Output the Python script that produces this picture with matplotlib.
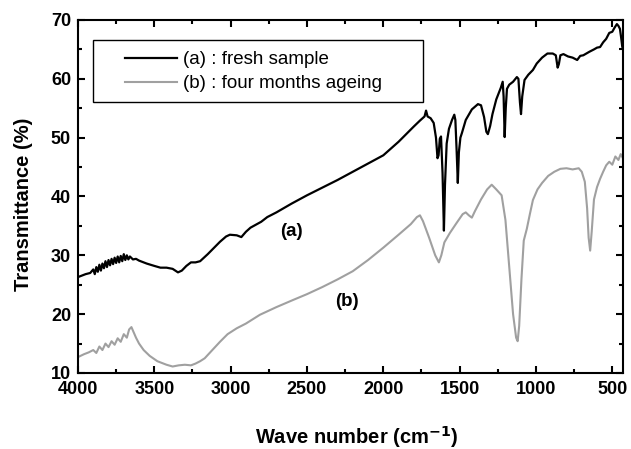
import matplotlib.pyplot as plt
from matplotlib.ticker import MultipleLocator
from matplotlib.patches import Rectangle

# curve (a): fresh sample, wave number (cm-1) / transmittance (%)
wn_a = [4000, 3950, 3920, 3900, 3890, 3880, 3870, 3860, 3850, 3840, 3830, 3820,
        3810, 3800, 3790, 3780, 3770, 3760, 3750, 3740, 3730, 3720, 3710, 3700,
        3690, 3680, 3670, 3660, 3640, 3620, 3600, 3550, 3500, 3460, 3420, 3380,
        3345, 3320, 3290, 3260, 3230, 3200, 3150, 3100, 3070, 3030, 3005, 2960,
        2930, 2900, 2870, 2800, 2760, 2700, 2600, 2500, 2400, 2300, 2200, 2100,
        2000, 1900, 1800, 1760, 1730, 1720, 1710, 1690, 1670, 1655, 1645, 1638,
        1630, 1622, 1612, 1603, 1596, 1585, 1570, 1550, 1535, 1528, 1520, 1512,
        1505, 1495, 1485, 1460, 1420, 1380, 1360, 1340, 1325, 1315, 1300, 1285,
        1260, 1230, 1218, 1212, 1205, 1198, 1190, 1175, 1150, 1125, 1115, 1105,
        1098, 1090, 1075, 1050, 1020, 995, 960, 925, 890, 870, 858, 850,
        840, 820, 790, 760, 730, 710, 690, 670, 650, 620, 600, 580,
        560, 540, 520, 500, 485, 470, 460, 450, 442, 435, 430]
t_a = [26.3, 26.8, 27.0, 27.6, 26.8, 28.0, 27.2, 28.4, 27.4, 28.6, 27.8, 29.0,
       28.0, 29.2, 28.3, 29.4, 28.5, 29.6, 28.7, 29.8, 28.8, 29.9, 29.0, 30.2,
       29.2, 30.0, 29.3, 29.8, 29.3, 29.4, 29.1, 28.6, 28.2, 27.9, 27.9, 27.7,
       27.1, 27.4, 28.2, 28.8, 28.8, 29.0, 30.2, 31.5, 32.3, 33.2, 33.5, 33.4,
       33.1, 34.0, 34.7, 35.7, 36.5, 37.3, 38.8, 40.2, 41.5, 42.8, 44.2, 45.6,
       47.0, 49.3, 51.9, 52.9, 53.6, 54.6, 53.6, 53.3, 52.5, 50.0, 46.5, 47.0,
       49.8, 50.2, 44.0, 34.2, 42.0, 49.0, 51.5, 53.0, 53.9, 53.0, 48.0, 42.3,
       47.5, 50.0, 50.8, 53.0, 54.8, 55.7, 55.5, 53.5, 51.0, 50.6, 52.0, 54.0,
       56.5, 58.5, 59.5, 57.0, 50.1, 55.0, 58.3, 59.0, 59.5, 60.3, 60.0, 56.0,
       54.0, 57.0, 59.8, 60.7, 61.5, 62.6, 63.6, 64.3, 64.3, 64.0, 61.9, 62.5,
       64.0, 64.2, 63.8, 63.6, 63.2, 63.9, 64.0, 64.3, 64.6, 65.0, 65.3, 65.4,
       66.2, 66.8, 67.8, 68.0, 68.7, 69.3, 69.0, 68.5, 67.0, 65.5, 65.0]

# curve (b): four months ageing
wn_b = [4000, 3960, 3930, 3900, 3880, 3860, 3840, 3820, 3800, 3780, 3760, 3740,
        3720, 3700, 3680, 3665, 3650, 3640, 3620, 3600, 3570, 3530, 3480, 3420,
        3380, 3340, 3300, 3260, 3230, 3200, 3170, 3120, 3070, 3020, 2960, 2900,
        2808, 2700, 2592, 2500, 2400, 2300, 2200, 2100, 2000, 1900, 1820, 1780,
        1760, 1740, 1700, 1660, 1636, 1620, 1600, 1564, 1520, 1480, 1460, 1440,
        1420, 1400, 1360, 1320, 1290, 1260, 1225, 1200, 1175, 1150, 1130, 1120,
        1110, 1095, 1080, 1060, 1040, 1020, 990, 960, 920, 880, 840, 800,
        760, 720, 700, 680, 665, 655, 645, 635, 620, 600, 580, 560,
        540, 520, 500, 480, 460, 445, 430]
t_b = [12.7, 13.2, 13.5, 13.9, 13.4, 14.5, 13.9, 15.0, 14.4, 15.4, 14.8, 15.9,
       15.3, 16.6, 16.0, 17.4, 17.8, 17.2, 16.0, 15.0, 13.9, 12.9, 12.0, 11.4,
       11.1, 11.3, 11.4, 11.3, 11.6, 12.0, 12.5, 13.9, 15.3, 16.6, 17.6, 18.4,
       19.9, 21.2, 22.4, 23.4, 24.6, 25.9, 27.3, 29.2, 31.3, 33.5, 35.3, 36.5,
       36.8, 35.8, 33.0, 30.0, 28.8, 30.0, 32.2, 33.8, 35.5, 37.0, 37.3, 36.8,
       36.4, 37.5, 39.5, 41.2, 42.0, 41.2, 40.2, 36.0, 28.0, 20.0, 16.0, 15.4,
       18.0, 26.0, 32.5, 34.5, 37.0, 39.4, 41.2, 42.3, 43.5, 44.2, 44.7, 44.8,
       44.6, 44.8, 44.2, 42.5, 38.0, 33.0, 30.8, 34.0, 39.5, 41.6, 43.0, 44.2,
       45.3, 45.9, 45.4, 46.8, 46.2, 47.2, 46.5]

label_a = '(a) : fresh sample'
label_b = '(b) : four months ageing'

plt.rcParams['font.family'] = ['Liberation Sans', 'DejaVu Sans']

fig = plt.figure(figsize=(6.31, 4.49), dpi=100)
ax = fig.add_axes([0.1236, 0.1693, 0.8637, 0.7862])

ax.plot(wn_a, t_a, color='black', lw=1.6, label=label_a)
ax.plot(wn_b, t_b, color='#a0a0a0', lw=1.5, label=label_b)

ax.set_xlim(4000, 430)
ax.set_ylim(10, 70)
ax.xaxis.set_major_locator(MultipleLocator(500))
ax.xaxis.set_minor_locator(MultipleLocator(250))
ax.yaxis.set_major_locator(MultipleLocator(10))
ax.yaxis.set_minor_locator(MultipleLocator(5))
ax.tick_params(which='both', direction='in', top=True, right=True, width=1.5)
ax.tick_params(which='major', length=5, labelsize=13)
ax.tick_params(axis='x', which='major', pad=6)
ax.tick_params(axis='y', which='major', pad=5)
ax.tick_params(which='minor', length=3)
for lab in ax.get_xticklabels() + ax.get_yticklabels():
    lab.set_fontweight('bold')
for sp in ax.spines.values():
    sp.set_linewidth(1.5)

ax.set_xlabel('Wave number (cm$^{\\mathbf{-1}}$)', fontsize=14.5, fontweight='bold')
ax.xaxis.label.set_va('baseline')
ax.xaxis.set_label_coords(0.512, -0.201)
ax.set_ylabel('Transmittance (%)', fontsize=14.5, fontweight='bold')
ax.yaxis.set_label_coords(-0.0826, 0.479)

ax.text(2605, 34, '(a)', fontsize=13.5, fontweight='bold', ha='center', va='center')
ax.text(2238, 22.1, '(b)', fontsize=13.5, fontweight='bold', ha='center', va='center')

# legend box drawn separately, legend entries placed inside it
ax.add_patch(Rectangle((0.0275, 0.768), 0.6055, 0.175, transform=ax.transAxes,
                       fill=False, edgecolor='black', lw=1.0, zorder=5))
leg = ax.legend(loc='upper left', bbox_to_anchor=(0.0862, 0.912), fontsize=13.5,
                frameon=False, handlelength=2.8, borderpad=0, borderaxespad=0,
                labelspacing=0.38, handletextpad=0.3)

fig.savefig('out.png', dpi=100)
